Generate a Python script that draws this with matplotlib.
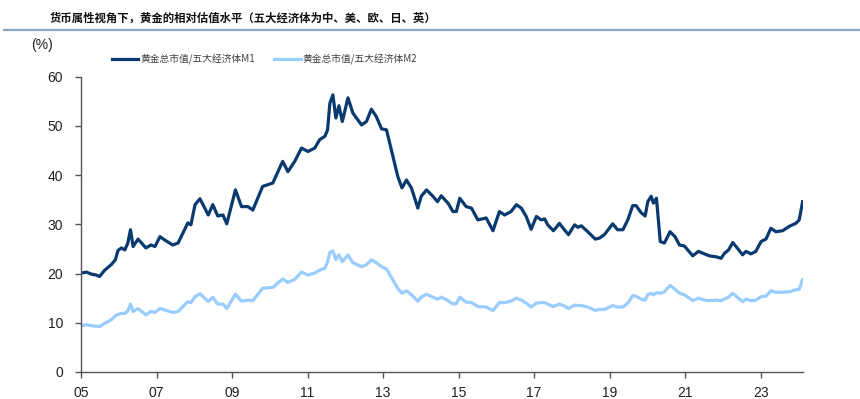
import numpy as np
import matplotlib
matplotlib.use('Agg')
import matplotlib.pyplot as plt
from matplotlib.lines import Line2D

# decimal year of each reading
dates = [2005.01, 2005.14, 2005.27, 2005.40, 2005.49, 2005.63, 2005.80, 2005.91, 2005.98,
         2006.07, 2006.16, 2006.24, 2006.31, 2006.38, 2006.51, 2006.72, 2006.85, 2006.96,
         2007.09, 2007.22, 2007.43, 2007.57, 2007.83, 2007.91,
         2008.02, 2008.15, 2008.37, 2008.49, 2008.62, 2008.76, 2008.86,
         2009.09, 2009.25, 2009.42, 2009.55, 2009.81,
         2010.08, 2010.34, 2010.48, 2010.66, 2010.84,
         2011.01, 2011.19, 2011.32, 2011.46, 2011.53, 2011.59, 2011.67, 2011.75, 2011.83, 2011.92,
         2012.07, 2012.20, 2012.43, 2012.56, 2012.69, 2012.82, 2012.96,
         2013.09, 2013.26, 2013.39, 2013.50, 2013.62, 2013.75, 2013.92,
         2014.01, 2014.15, 2014.32, 2014.44, 2014.54, 2014.72, 2014.85, 2014.94,
         2015.03, 2015.20, 2015.34, 2015.51, 2015.73, 2015.91,
         2016.08, 2016.22, 2016.39, 2016.53, 2016.66, 2016.79, 2016.92,
         2017.06, 2017.19, 2017.28, 2017.36, 2017.51, 2017.67, 2017.80, 2017.91,
         2018.07, 2018.16, 2018.25, 2018.42, 2018.62, 2018.73, 2018.86,
         2019.08, 2019.21, 2019.35, 2019.48, 2019.61, 2019.70, 2019.83, 2019.94,
         2020.01, 2020.10, 2020.16, 2020.24, 2020.34, 2020.45, 2020.60, 2020.73, 2020.85, 2020.98,
         2021.20, 2021.35, 2021.51, 2021.64, 2021.82, 2021.95,
         2022.04, 2022.15, 2022.26, 2022.41, 2022.52, 2022.61, 2022.74, 2022.87,
         2023.01, 2023.14, 2023.27, 2023.40, 2023.58, 2023.76, 2023.93,
         2024.02, 2024.11]

gold_m1 = [20.1, 20.3, 19.9, 19.7, 19.4, 20.7, 21.8, 22.8, 24.7,
           25.2, 24.8, 26.2, 28.9, 25.5, 27.0, 25.2, 25.8, 25.5,
           27.5, 26.8, 25.8, 26.2, 30.3, 29.9,
           34.0, 35.2, 31.9, 34.0, 31.7, 31.9, 30.1,
           37.0, 33.6, 33.6, 32.9, 37.7,
           38.4, 42.8, 40.7, 42.8, 45.5,
           44.8, 45.5, 47.2, 47.9, 49.2, 54.6, 56.3, 51.6, 54.1, 50.9,
           55.7, 52.6, 50.2, 50.9, 53.4, 51.9, 49.4,
           49.2, 43.8, 39.7, 37.4, 39.0, 37.4, 33.3,
           35.7, 37.0, 35.7, 34.6, 35.8, 34.3, 32.6, 32.6,
           35.3, 33.6, 33.3, 30.9, 31.3, 28.7,
           32.6, 31.9, 32.6, 34.0, 33.3, 31.6, 29.0,
           31.6, 30.9, 31.1, 29.9, 28.7, 30.2, 28.9, 27.9,
           29.9, 29.4, 29.7, 28.5, 27.0, 27.2, 27.9,
           30.1, 28.9, 28.9, 30.9, 33.8, 33.8, 32.4, 31.7,
           34.6, 35.7, 34.3, 35.3, 26.5, 26.2, 28.5, 27.5, 25.8, 25.6,
           23.6, 24.5, 24.0, 23.6, 23.4, 23.1,
           24.1, 24.8, 26.3, 24.9, 23.8, 24.5, 24.0, 24.5,
           26.5, 27.0, 29.2, 28.5, 28.7, 29.6, 30.2,
           30.9, 34.6]

gold_m2 = [9.4, 9.6, 9.4, 9.3, 9.2, 9.9, 10.6, 11.4, 11.7,
           11.9, 11.9, 12.4, 13.8, 12.3, 12.9, 11.6, 12.3, 12.1,
           12.9, 12.6, 12.1, 12.3, 14.3, 14.1,
           15.3, 15.9, 14.3, 15.2, 13.8, 13.8, 12.9,
           15.8, 14.4, 14.6, 14.5, 17.0,
           17.2, 18.9, 18.2, 18.8, 20.3,
           19.7, 20.1, 20.7, 21.1, 22.4, 24.3, 24.6, 22.8, 23.8, 22.4,
           23.8, 22.2, 21.4, 21.8, 22.8, 22.2, 21.4,
           20.9, 18.7, 17.0, 16.0, 16.5, 15.7, 14.4,
           15.2, 15.8, 15.2, 14.8, 15.2, 14.5, 13.8, 13.9,
           15.2, 14.2, 14.1, 13.3, 13.2, 12.5,
           14.1, 14.1, 14.4, 15.0, 14.6, 14.0, 13.2,
           14.0, 14.1, 14.1, 13.8, 13.3, 13.8, 13.4, 12.9,
           13.6, 13.5, 13.5, 13.2, 12.5, 12.7, 12.7,
           13.5, 13.2, 13.2, 14.0, 15.5, 15.4, 14.8, 14.6,
           15.7, 16.0, 15.7, 16.1, 16.0, 16.3, 17.6, 16.8, 16.0, 15.7,
           14.5, 15.0, 14.6, 14.5, 14.6, 14.5,
           14.8, 15.2, 16.0, 15.0, 14.3, 14.8, 14.5, 14.6,
           15.3, 15.4, 16.5, 16.2, 16.2, 16.3, 16.7,
           16.8, 18.8]

x_ticks = [2005, 2007, 2009, 2011, 2013, 2015, 2017, 2019, 2021, 2023]
x_labels = ['05', '07', '09', '11', '13', '15', '17', '19', '21', '23']
y_ticks = [0, 10, 20, 30, 40, 50, 60]

title = '货币属性视角下，黄金的相对估值水平（五大经济体为中、美、欧、日、英）'
name_m1 = '黄金总市值/五大经济体M1'
name_m2 = '黄金总市值/五大经济体M2'

cjk = ['Noto Sans CJK SC', 'DejaVu Sans']
plt.rcParams['font.family'] = ['Liberation Sans', 'DejaVu Sans']

fig = plt.figure(figsize=(8.6, 3.99), dpi=100)
ax = fig.add_axes([0.0942, 0.0677, 0.8395, 0.7401])

ax.plot(dates, gold_m1, color='#083a6f', lw=2.3, label=name_m1, solid_joinstyle='round')
ax.plot(dates, gold_m2, color='#99ccff', lw=2.3, label=name_m2, solid_joinstyle='round')

ax.set_xlim(2005.0, 2024.12)
ax.set_ylim(0, 60)
ax.set_xticks(x_ticks)
ax.set_xticklabels(x_labels)
ax.set_yticks(y_ticks)
for s in ['top', 'right']:
    ax.spines[s].set_visible(False)
for s in ['left', 'bottom']:
    ax.spines[s].set_color('#555555')
    ax.spines[s].set_linewidth(1.0)
ax.tick_params(axis='y', direction='out', length=4, width=1, color='#555555',
               labelsize=10, labelcolor='#222222', pad=9)
ax.tick_params(axis='x', direction='out', length=4, width=1, color='#555555',
               labelsize=10, labelcolor='#222222', pad=6)

fig.text(0.058, 0.955, title, fontsize=8.2, fontweight='bold', family=cjk,
         color='#111111', va='center', ha='left')
fig.add_artist(Line2D([0.005, 1.0], [0.926, 0.926], transform=fig.transFigure,
                      color='#8ca6c8', lw=1.6))
fig.text(0.049, 0.887, '(%)', fontsize=10, color='#222222', ha='center', va='center')

leg = ax.legend(loc='center', bbox_to_anchor=(0.3076, 0.85), bbox_transform=fig.transFigure,
                ncol=2, frameon=False, handlelength=2.7, handletextpad=0.2,
                columnspacing=2.0, prop={'family': cjk, 'size': 7})
for t in leg.get_texts():
    t.set_color('#404040')

fig.savefig('out.png', dpi=100)
